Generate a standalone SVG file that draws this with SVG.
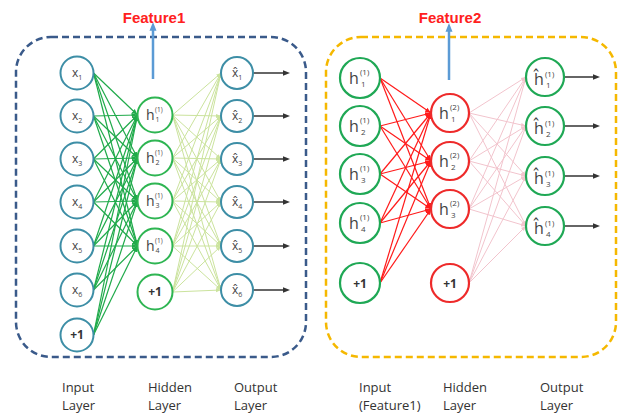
<svg xmlns="http://www.w3.org/2000/svg" width="624" height="415" viewBox="0 0 624 415">
<defs>
<style>
.e1{stroke:#1faa4a;stroke-width:1.2;marker-end:url(#mG)}
.e2{stroke:#cbe39d;stroke-width:1;marker-end:url(#mL)}
.e3{stroke:#ff1a1a;stroke-width:1.2;marker-end:url(#mR)}
.e4{stroke:#f2c4cd;stroke-width:1;marker-end:url(#mP)}
.out{stroke:#333;stroke-width:1.5;marker-end:url(#mK)}
.up{stroke:#5b9bd5;stroke-width:2.5;marker-end:url(#mB)}
.nb{fill:#fff;stroke:#3d8ea6;stroke-width:2}
.ng{fill:#fff;stroke:#2eb552;stroke-width:2}
.ng2{fill:#fff;stroke:#1fa855;stroke-width:2.2}
.nr{fill:#fff;stroke:#ee2a2a;stroke-width:2.2}
.t{font-family:"Open Sans","Liberation Sans",sans-serif;fill:#444}
.p1{font-family:"Open Sans","Liberation Sans",sans-serif;fill:#333;font-size:12px;font-weight:bold;text-anchor:middle}
.f{font-family:"Liberation Sans",Arial,sans-serif;font-weight:bold;font-size:15px;fill:#ff2020;text-anchor:middle}
.lb{font-family:"Open Sans","Liberation Sans",sans-serif;fill:#333;font-size:13px}
.box1{fill:none;stroke:#3a5a8a;stroke-width:2.5;stroke-dasharray:7,4}
.box2{fill:none;stroke:#f5b800;stroke-width:2.5;stroke-dasharray:7,4}
</style>
<marker id="mG" viewBox="0 0 10 10" refX="10" refY="5" markerWidth="5" markerHeight="5" orient="auto"><path d="M0,1L10,5L0,9z" fill="#1faa4a"/></marker>
<marker id="mL" viewBox="0 0 10 10" refX="10" refY="5" markerWidth="5" markerHeight="5" orient="auto"><path d="M0,1L10,5L0,9z" fill="#cbe39d"/></marker>
<marker id="mR" viewBox="0 0 10 10" refX="10" refY="5" markerWidth="5" markerHeight="5" orient="auto"><path d="M0,1L10,5L0,9z" fill="#ff1a1a"/></marker>
<marker id="mP" viewBox="0 0 10 10" refX="10" refY="5" markerWidth="5" markerHeight="5" orient="auto"><path d="M0,1L10,5L0,9z" fill="#f2c4cd"/></marker>
<marker id="mK" viewBox="0 0 10 10" refX="2" refY="5" markerWidth="5" markerHeight="5" orient="auto"><path d="M0,1L10,5L0,9z" fill="#333"/></marker>
<marker id="mB" viewBox="0 0 10 10" refX="2" refY="5" markerWidth="3.5" markerHeight="3.5" orient="auto"><path d="M0,1L10,5L0,9z" fill="#5b9bd5"/></marker>
</defs>
<rect width="624" height="415" fill="#fff"/>

<rect class="box1" x="16" y="37" width="290" height="320" rx="35"/>
<rect class="box2" x="326" y="37" width="290" height="320" rx="35"/>

<g id="connectors">
<line class="up" x1="153" y1="79" x2="153" y2="29"/>
<line class="up" x1="449" y1="80" x2="449" y2="30"/>
<g>
<line class="e1" x1="93.5" y1="73" x2="137.5" y2="115"/><line class="e1" x1="93.5" y1="73" x2="137.5" y2="158"/><line class="e1" x1="93.5" y1="73" x2="137.5" y2="201"/><line class="e1" x1="93.5" y1="73" x2="137.5" y2="246"/>
<line class="e1" x1="93.5" y1="116" x2="137.5" y2="115"/><line class="e1" x1="93.5" y1="116" x2="137.5" y2="158"/><line class="e1" x1="93.5" y1="116" x2="137.5" y2="201"/><line class="e1" x1="93.5" y1="116" x2="137.5" y2="246"/>
<line class="e1" x1="93.5" y1="159" x2="137.5" y2="115"/><line class="e1" x1="93.5" y1="159" x2="137.5" y2="158"/><line class="e1" x1="93.5" y1="159" x2="137.5" y2="201"/><line class="e1" x1="93.5" y1="159" x2="137.5" y2="246"/>
<line class="e1" x1="93.5" y1="202" x2="137.5" y2="115"/><line class="e1" x1="93.5" y1="202" x2="137.5" y2="158"/><line class="e1" x1="93.5" y1="202" x2="137.5" y2="201"/><line class="e1" x1="93.5" y1="202" x2="137.5" y2="246"/>
<line class="e1" x1="93.5" y1="246" x2="137.5" y2="115"/><line class="e1" x1="93.5" y1="246" x2="137.5" y2="158"/><line class="e1" x1="93.5" y1="246" x2="137.5" y2="201"/><line class="e1" x1="93.5" y1="246" x2="137.5" y2="246"/>
<line class="e1" x1="93.5" y1="290" x2="137.5" y2="115"/><line class="e1" x1="93.5" y1="290" x2="137.5" y2="158"/><line class="e1" x1="93.5" y1="290" x2="137.5" y2="201"/><line class="e1" x1="93.5" y1="290" x2="137.5" y2="246"/>
<line class="e1" x1="93.5" y1="335" x2="137.5" y2="115"/><line class="e1" x1="93.5" y1="335" x2="137.5" y2="158"/><line class="e1" x1="93.5" y1="335" x2="137.5" y2="201"/><line class="e1" x1="93.5" y1="335" x2="137.5" y2="246"/>
</g>
<g>
<line class="e2" x1="172.5" y1="115" x2="221" y2="73"/><line class="e2" x1="172.5" y1="115" x2="221" y2="116"/><line class="e2" x1="172.5" y1="115" x2="221" y2="159"/><line class="e2" x1="172.5" y1="115" x2="221" y2="202"/><line class="e2" x1="172.5" y1="115" x2="221" y2="246"/><line class="e2" x1="172.5" y1="115" x2="221" y2="290"/>
<line class="e2" x1="172.5" y1="158" x2="221" y2="73"/><line class="e2" x1="172.5" y1="158" x2="221" y2="116"/><line class="e2" x1="172.5" y1="158" x2="221" y2="159"/><line class="e2" x1="172.5" y1="158" x2="221" y2="202"/><line class="e2" x1="172.5" y1="158" x2="221" y2="246"/><line class="e2" x1="172.5" y1="158" x2="221" y2="290"/>
<line class="e2" x1="172.5" y1="201" x2="221" y2="73"/><line class="e2" x1="172.5" y1="201" x2="221" y2="116"/><line class="e2" x1="172.5" y1="201" x2="221" y2="159"/><line class="e2" x1="172.5" y1="201" x2="221" y2="202"/><line class="e2" x1="172.5" y1="201" x2="221" y2="246"/><line class="e2" x1="172.5" y1="201" x2="221" y2="290"/>
<line class="e2" x1="172.5" y1="246" x2="221" y2="73"/><line class="e2" x1="172.5" y1="246" x2="221" y2="116"/><line class="e2" x1="172.5" y1="246" x2="221" y2="159"/><line class="e2" x1="172.5" y1="246" x2="221" y2="202"/><line class="e2" x1="172.5" y1="246" x2="221" y2="246"/><line class="e2" x1="172.5" y1="246" x2="221" y2="290"/>
<line class="e2" x1="172.5" y1="292" x2="221" y2="73"/><line class="e2" x1="172.5" y1="292" x2="221" y2="116"/><line class="e2" x1="172.5" y1="292" x2="221" y2="159"/><line class="e2" x1="172.5" y1="292" x2="221" y2="202"/><line class="e2" x1="172.5" y1="292" x2="221" y2="246"/><line class="e2" x1="172.5" y1="292" x2="221" y2="290"/>
</g>
<g>
<line class="e3" x1="380" y1="78" x2="431" y2="113"/><line class="e3" x1="380" y1="78" x2="431" y2="161"/><line class="e3" x1="380" y1="78" x2="431" y2="209"/>
<line class="e3" x1="380" y1="126" x2="431" y2="113"/><line class="e3" x1="380" y1="126" x2="431" y2="161"/><line class="e3" x1="380" y1="126" x2="431" y2="209"/>
<line class="e3" x1="380" y1="174" x2="431" y2="113"/><line class="e3" x1="380" y1="174" x2="431" y2="161"/><line class="e3" x1="380" y1="174" x2="431" y2="209"/>
<line class="e3" x1="380" y1="223" x2="431" y2="113"/><line class="e3" x1="380" y1="223" x2="431" y2="161"/><line class="e3" x1="380" y1="223" x2="431" y2="209"/>
<line class="e3" x1="380" y1="283" x2="431" y2="113"/><line class="e3" x1="380" y1="283" x2="431" y2="161"/><line class="e3" x1="380" y1="283" x2="431" y2="209"/>
</g>
<g>
<line class="e4" x1="469" y1="113" x2="526" y2="77"/><line class="e4" x1="469" y1="113" x2="526" y2="126"/><line class="e4" x1="469" y1="113" x2="526" y2="176"/><line class="e4" x1="469" y1="113" x2="526" y2="226"/>
<line class="e4" x1="469" y1="161" x2="526" y2="77"/><line class="e4" x1="469" y1="161" x2="526" y2="126"/><line class="e4" x1="469" y1="161" x2="526" y2="176"/><line class="e4" x1="469" y1="161" x2="526" y2="226"/>
<line class="e4" x1="469" y1="209" x2="526" y2="77"/><line class="e4" x1="469" y1="209" x2="526" y2="126"/><line class="e4" x1="469" y1="209" x2="526" y2="176"/><line class="e4" x1="469" y1="209" x2="526" y2="226"/>
<line class="e4" x1="469" y1="283" x2="526" y2="77"/><line class="e4" x1="469" y1="283" x2="526" y2="126"/><line class="e4" x1="469" y1="283" x2="526" y2="176"/><line class="e4" x1="469" y1="283" x2="526" y2="226"/>
</g>
<g>
<line class="out" x1="253" y1="73" x2="284" y2="73"/><line class="out" x1="253" y1="116" x2="284" y2="116"/><line class="out" x1="253" y1="159" x2="284" y2="159"/><line class="out" x1="253" y1="202" x2="284" y2="202"/><line class="out" x1="253" y1="246" x2="284" y2="246"/><line class="out" x1="253" y1="290" x2="284" y2="290"/>
<line class="out" x1="564" y1="77" x2="594" y2="77"/><line class="out" x1="564" y1="126" x2="594" y2="126"/><line class="out" x1="564" y1="176" x2="594" y2="176"/><line class="out" x1="564" y1="226" x2="594" y2="226"/>
</g>
</g>

<text class="f" x="154" y="23">Feature1</text>
<text class="f" x="450" y="23">Feature2</text>

<!-- Left input layer -->
<g id="x1"><circle class="nb" cx="77" cy="73" r="16.5"/><text class="t" x="72" y="77" font-size="12">x<tspan dy="3" font-size="7">1</tspan></text></g>
<g id="x2"><circle class="nb" cx="77" cy="116" r="16.5"/><text class="t" x="72" y="120" font-size="12">x<tspan dy="3" font-size="7">2</tspan></text></g>
<g id="x3"><circle class="nb" cx="77" cy="159" r="16.5"/><text class="t" x="72" y="163" font-size="12">x<tspan dy="3" font-size="7">3</tspan></text></g>
<g id="x4"><circle class="nb" cx="77" cy="202" r="16.5"/><text class="t" x="72" y="206" font-size="12">x<tspan dy="3" font-size="7">4</tspan></text></g>
<g id="x5"><circle class="nb" cx="77" cy="246" r="16.5"/><text class="t" x="72" y="250" font-size="12">x<tspan dy="3" font-size="7">5</tspan></text></g>
<g id="x6"><circle class="nb" cx="77" cy="290" r="16.5"/><text class="t" x="72" y="294" font-size="12">x<tspan dy="3" font-size="7">6</tspan></text></g>
<g id="xb"><circle class="nb" cx="77" cy="335" r="16.5"/><text class="p1" x="77" y="339">+1</text></g>

<!-- Left hidden layer -->
<g id="h1a"><circle class="ng" cx="155" cy="115" r="17.5"/><text class="t" font-size="14"><tspan x="146" y="120">h</tspan><tspan x="155" y="112" font-size="6.5">(1)</tspan><tspan x="155.5" y="122" font-size="7">1</tspan></text></g>
<g id="h2a"><circle class="ng" cx="155" cy="158" r="17.5"/><text class="t" font-size="14"><tspan x="146" y="163">h</tspan><tspan x="155" y="155" font-size="6.5">(1)</tspan><tspan x="155.5" y="165" font-size="7">2</tspan></text></g>
<g id="h3a"><circle class="ng" cx="155" cy="201" r="17.5"/><text class="t" font-size="14"><tspan x="146" y="206">h</tspan><tspan x="155" y="198" font-size="6.5">(1)</tspan><tspan x="155.5" y="208" font-size="7">3</tspan></text></g>
<g id="h4a"><circle class="ng" cx="155" cy="246" r="17.5"/><text class="t" font-size="14"><tspan x="146" y="251">h</tspan><tspan x="155" y="243" font-size="6.5">(1)</tspan><tspan x="155.5" y="253" font-size="7">4</tspan></text></g>
<g id="hba"><circle class="ng" cx="155" cy="292" r="17.5"/><text class="p1" x="155" y="296">+1</text></g>

<!-- Left output layer -->
<g id="o1"><circle class="nb" cx="237" cy="73" r="16"/><text class="t" x="232" y="77" font-size="12">x&#x302;<tspan dy="3" font-size="7">1</tspan></text></g>
<g id="o2"><circle class="nb" cx="237" cy="116" r="16"/><text class="t" x="232" y="120" font-size="12">x&#x302;<tspan dy="3" font-size="7">2</tspan></text></g>
<g id="o3"><circle class="nb" cx="237" cy="159" r="16"/><text class="t" x="232" y="163" font-size="12">x&#x302;<tspan dy="3" font-size="7">3</tspan></text></g>
<g id="o4"><circle class="nb" cx="237" cy="202" r="16"/><text class="t" x="232" y="206" font-size="12">x&#x302;<tspan dy="3" font-size="7">4</tspan></text></g>
<g id="o5"><circle class="nb" cx="237" cy="246" r="16"/><text class="t" x="232" y="250" font-size="12">x&#x302;<tspan dy="3" font-size="7">5</tspan></text></g>
<g id="o6"><circle class="nb" cx="237" cy="290" r="16"/><text class="t" x="232" y="294" font-size="12">x&#x302;<tspan dy="3" font-size="7">6</tspan></text></g>

<!-- Right input layer -->
<g id="ri1"><circle class="ng2" cx="360" cy="78" r="20"/><text class="t" font-size="16"><tspan x="349" y="84">h</tspan><tspan x="360" y="75" font-size="8">(1)</tspan><tspan x="361" y="87" font-size="8">1</tspan></text></g>
<g id="ri2"><circle class="ng2" cx="360" cy="126" r="20"/><text class="t" font-size="16"><tspan x="349" y="132">h</tspan><tspan x="360" y="123" font-size="8">(1)</tspan><tspan x="361" y="135" font-size="8">2</tspan></text></g>
<g id="ri3"><circle class="ng2" cx="360" cy="174" r="20"/><text class="t" font-size="16"><tspan x="349" y="180">h</tspan><tspan x="360" y="171" font-size="8">(1)</tspan><tspan x="361" y="183" font-size="8">3</tspan></text></g>
<g id="ri4"><circle class="ng2" cx="360" cy="223" r="20"/><text class="t" font-size="16"><tspan x="349" y="229">h</tspan><tspan x="360" y="220" font-size="8">(1)</tspan><tspan x="361" y="232" font-size="8">4</tspan></text></g>
<g id="rib"><circle class="ng2" cx="360" cy="283" r="20"/><text class="p1" x="360" y="288" font-size="14">+1</text></g>

<!-- Right hidden layer -->
<g id="rh1"><circle class="nr" cx="450" cy="113" r="19"/><text class="t" font-size="16"><tspan x="439" y="119">h</tspan><tspan x="450" y="110" font-size="8">(2)</tspan><tspan x="451" y="122" font-size="8">1</tspan></text></g>
<g id="rh2"><circle class="nr" cx="450" cy="161" r="19"/><text class="t" font-size="16"><tspan x="439" y="167">h</tspan><tspan x="450" y="158" font-size="8">(2)</tspan><tspan x="451" y="170" font-size="8">2</tspan></text></g>
<g id="rh3"><circle class="nr" cx="450" cy="209" r="19"/><text class="t" font-size="16"><tspan x="439" y="215">h</tspan><tspan x="450" y="206" font-size="8">(2)</tspan><tspan x="451" y="218" font-size="8">3</tspan></text></g>
<g id="rhb"><circle class="nr" cx="450" cy="283" r="19"/><text class="p1" x="450" y="288" font-size="14">+1</text></g>

<!-- Right output layer -->
<g id="ro1"><circle class="ng2" cx="545" cy="77" r="19"/><text class="t" font-size="16"><tspan x="534" y="85">ĥ</tspan><tspan x="545" y="77" font-size="8">(1)</tspan><tspan x="546" y="88" font-size="8">1</tspan></text></g>
<g id="ro2"><circle class="ng2" cx="545" cy="126" r="19"/><text class="t" font-size="16"><tspan x="534" y="134">ĥ</tspan><tspan x="545" y="126" font-size="8">(1)</tspan><tspan x="546" y="137" font-size="8">2</tspan></text></g>
<g id="ro3"><circle class="ng2" cx="545" cy="176" r="19"/><text class="t" font-size="16"><tspan x="534" y="184">ĥ</tspan><tspan x="545" y="176" font-size="8">(1)</tspan><tspan x="546" y="187" font-size="8">3</tspan></text></g>
<g id="ro4"><circle class="ng2" cx="545" cy="226" r="19"/><text class="t" font-size="16"><tspan x="534" y="234">ĥ</tspan><tspan x="545" y="226" font-size="8">(1)</tspan><tspan x="546" y="237" font-size="8">4</tspan></text></g>

<!-- Layer labels -->
<text class="lb" x="62" y="392">Input</text><text class="lb" x="62" y="410">Layer</text>
<text class="lb" x="148" y="392">Hidden</text><text class="lb" x="148" y="410">Layer</text>
<text class="lb" x="234" y="392">Output</text><text class="lb" x="234" y="410">Layer</text>
<text class="lb" x="359" y="392">Input</text><text class="lb" x="359" y="410">(Feature1)</text>
<text class="lb" x="443" y="392">Hidden</text><text class="lb" x="443" y="410">Layer</text>
<text class="lb" x="540" y="392">Output</text><text class="lb" x="540" y="410">Layer</text>
</svg>
